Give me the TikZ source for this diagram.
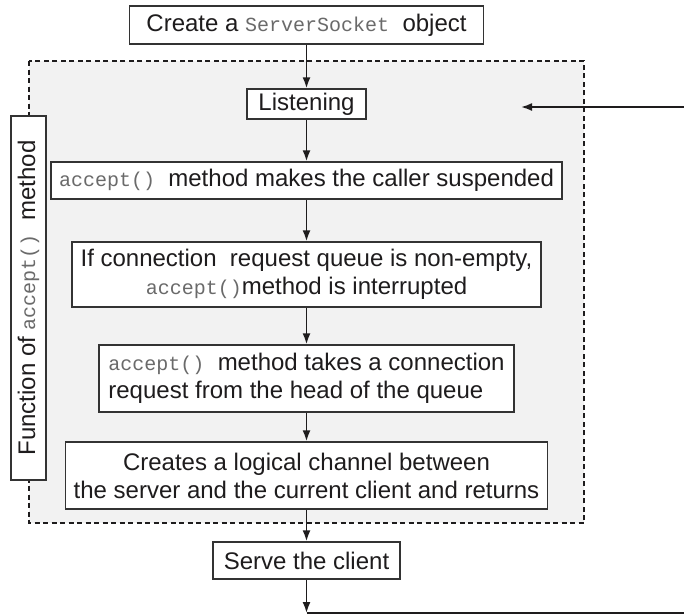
\documentclass[tikz,border=0pt]{standalone}
\usepackage{fontspec}
\setmainfont{Liberation Sans}
\setmonofont{Liberation Mono}
\usetikzlibrary{positioning,arrows.meta,backgrounds}
\definecolor{ink}{HTML}{1E1C1D}
\definecolor{codegray}{HTML}{6A6A6A}
\definecolor{panel}{HTML}{F2F2F2}
\definecolor{edge}{HTML}{333333}
\newcommand{\cd}[1]{{\ttfamily\fontsize{20}{28}\selectfont\color{codegray}#1}}
\tikzset{
  box/.style ={draw=edge, line width=1.4pt, fill=white, align=center, inner sep=0pt, font=\fontsize{24}{28}\selectfont, text=ink},
  bnd/.style ={draw=ink, line width=1.1pt, dash pattern=on 5pt off 3.5pt, fill=panel},
  ln/.style  ={draw=ink, line width=1.8pt, -{Latex[length=11pt,width=8pt]}},
  lnp/.style ={draw=ink, line width=1.8pt},
}
\begin{document}
\begin{tikzpicture}[x=1pt,y=-1pt]
  \useasboundingbox (0,0) rectangle (684,614);
  \draw[bnd] (29,61) rectangle (584,523);
  \node[box,minimum width=354pt,minimum height=38pt] (mk) at (306.5,25)
    {Create a \cd{ServerSocket}\ \ object};
  \node[box,minimum width=119pt,minimum height=30pt] (lis) at (306.5,104) {Listening};
  \node[box,minimum width=511pt,minimum height=37pt] (susp) at (306.5,180.5)
    {\cd{accept()}\ \ method makes the caller suspended};
  \node[box,minimum width=469pt,minimum height=65pt] (intr) at (306.5,274.5)
    {If connection\ \ request queue is non-empty,\\ \cd{accept()}method is interrupted};
  \node[box,align=left,minimum width=415pt,minimum height=67pt] (take) at (306.5,378.5)
    {\cd{accept()}\ \ method takes a connection\\ request from the head of the queue};
  \node[box,minimum width=482pt,minimum height=67pt] (chan) at (306.5,475.5)
    {Creates a logical channel between\\ the server and the current client and returns};
  \node[box,minimum width=187pt,minimum height=37pt] (serve) at (306.5,560.5) {Serve the client};
  \node[box,rotate=90,minimum width=364pt,minimum height=35pt] (fn) at (28.5,298)
    {Function of \cd{accept()}\ \ method};
  \coordinate (feed) at (684,107);
  \coordinate (hit) at (521,107);
  \coordinate (out) at (306.5,613);
  \coordinate (back) at (684,613);
  \draw[ln] (mk) -- (lis);
  \draw[ln] (lis) -- (susp);
  \draw[ln] (susp) -- (intr);
  \draw[ln] (intr) -- (take);
  \draw[ln] (take) -- (chan);
  \draw[ln] (chan) -- (serve);
  \draw[ln] (serve) -- (out);
  \draw[lnp] (out) -- (back);
  \draw[ln] (feed) -- (hit);
\end{tikzpicture}
\end{document}
